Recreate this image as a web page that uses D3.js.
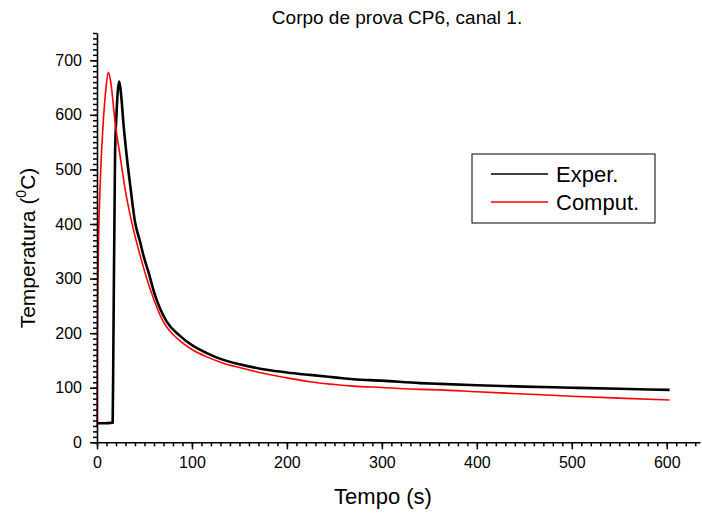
<!DOCTYPE html>
<html>
<head>
<meta charset="utf-8">
<script src="https://cdn.jsdelivr.net/npm/d3@7"></script>
<style>
  body { margin: 0; background: #fff; }
  text { font-family: Arial, "Liberation Sans", sans-serif; fill: #000; }
  .axis path, .axis line { stroke: #000; }
  .axis text { font-size: 16px; font-family: Arial, "Liberation Sans", sans-serif; }
</style>
</head>
<body>
<div id="chart"></div>
<script>
// Exper. (measured), Temperatura vs Tempo
var experTime = [0, 8, 16.5, 17.2, 19, 20.5, 23.5, 25.5, 27.7, 31.2, 35.4, 40, 45.3, 48.8, 54, 61, 73.4, 87.4, 100, 115, 133, 150, 178.6, 200, 224, 250, 270, 300, 340, 361, 400, 450, 500, 550, 603];
var experTemp = [35, 35, 36, 166, 527, 600, 661, 635, 587, 526, 465, 404, 368, 343, 313, 270, 221, 195, 178, 164, 151, 143, 133, 128, 123.5, 119, 115.6, 113, 108.5, 107, 104.5, 102, 100, 98, 96];

// Comput. (simulated)
var computTime = [0, 0.3, 1.4, 3.2, 6.6, 9.5, 11.9, 14.5, 19, 24.2, 29.5, 36.5, 45.3, 55.8, 69.8, 86, 100, 115, 133, 150, 178.6, 200, 224, 250, 270, 300, 340, 361, 400, 450, 500, 550, 603];
var computTemp = [29, 166, 343, 465, 587, 650, 678, 660, 587, 526, 465, 404, 343, 282, 221, 188, 170, 157, 145, 137, 125, 118, 111, 106, 103, 100.5, 97, 96, 92.5, 88.5, 84.5, 81, 77.6];

var seriesNames = ["Exper.", "Comput."];
var xTicks = [0, 100, 200, 300, 400, 500, 600];
var yTicks = [0, 100, 200, 300, 400, 500, 600, 700];

var width = 702, height = 513;

var x = d3.scaleLinear()
  .domain([0, 635])
  .range([97, 700]);

var y = d3.scaleLinear()
  .domain([0, 750])
  .range([442.3, 33]);

var svg = d3.select("#chart").append("svg")
  .attr("width", width)
  .attr("height", height);

var series = [
  { name: seriesNames[0], color: "#000", width: 2.6, values: d3.zip(experTime, experTemp) },
  { name: seriesNames[1], color: "#ff0000", width: 1.6, values: d3.zip(computTime, computTemp) }
];

var line = d3.line()
  .curve(d3.curveMonotoneX)
  .x(function (d) { return x(d[0]); })
  .y(function (d) { return y(d[1]); });

svg.selectAll(".line")
  .data(series)
  .enter().append("path")
  .attr("class", "line")
  .attr("fill", "none")
  .attr("stroke", function (d) { return d.color; })
  .attr("stroke-width", function (d) { return d.width; })
  .attr("stroke-linejoin", "round")
  .attr("d", function (d) { return line(d.values); });

// minor ticks first, then major axes on top
svg.append("g")
  .attr("class", "axis")
  .attr("transform", "translate(0," + y(0) + ")")
  .call(d3.axisBottom(x).ticks(63).tickSize(4).tickFormat(""))
  .call(function (g) { g.select(".domain").remove(); })
  .selectAll("line").attr("stroke-width", 1.5);

svg.append("g")
  .attr("class", "axis")
  .attr("transform", "translate(" + x(0) + ",0)")
  .call(d3.axisLeft(y).ticks(75).tickSize(4).tickFormat(""))
  .call(function (g) { g.select(".domain").remove(); })
  .selectAll("line").attr("stroke-width", 1.5);

var xAxis = svg.append("g")
  .attr("class", "axis")
  .attr("transform", "translate(0," + y(0) + ")")
  .call(d3.axisBottom(x).tickValues(xTicks).tickSize(7).tickSizeOuter(0).tickPadding(7));
xAxis.select(".domain").attr("stroke-width", 1.6);
xAxis.selectAll("line").attr("stroke-width", 1.5);

var yAxis = svg.append("g")
  .attr("class", "axis")
  .attr("transform", "translate(" + x(0) + ",0)")
  .call(d3.axisLeft(y).tickValues(yTicks).tickSize(7).tickSizeOuter(0).tickPadding(8));
yAxis.select(".domain").attr("stroke-width", 1.6);
yAxis.selectAll("line").attr("stroke-width", 1.5);

svg.append("text")
  .attr("x", 397)
  .attr("y", 24)
  .attr("text-anchor", "middle")
  .style("font-size", "19px")
  .text("Corpo de prova CP6, canal 1.");

svg.append("text")
  .attr("x", 383)
  .attr("y", 504)
  .attr("text-anchor", "middle")
  .style("font-size", "22px")
  .text("Tempo (s)");

var yLabel = svg.append("text")
  .attr("transform", "translate(35,248) rotate(-90)")
  .attr("text-anchor", "middle")
  .style("font-size", "21px");
yLabel.append("tspan").text("Temperatura (");
yLabel.append("tspan").attr("dy", -9).style("font-size", "14px").text("0");
yLabel.append("tspan").attr("dy", 9).text("C)");

// legend
var legend = svg.append("g")
  .attr("transform", "translate(472,154)");

legend.append("rect")
  .attr("width", 183)
  .attr("height", 69)
  .attr("fill", "#fff")
  .attr("stroke", "#000")
  .attr("stroke-width", 1);

var item = legend.selectAll(".item")
  .data(series)
  .enter().append("g")
  .attr("class", "item")
  .attr("transform", function (d, i) { return "translate(0," + (20 + i * 28) + ")"; });

item.append("line")
  .attr("x1", 19)
  .attr("x2", 76)
  .attr("stroke", function (d) { return d.color; })
  .attr("stroke-width", 1.5);

item.append("text")
  .attr("x", 84)
  .attr("dy", "0.35em")
  .style("font-size", "22px")
  .text(function (d) { return d.name; });
</script>
</body>
</html>
